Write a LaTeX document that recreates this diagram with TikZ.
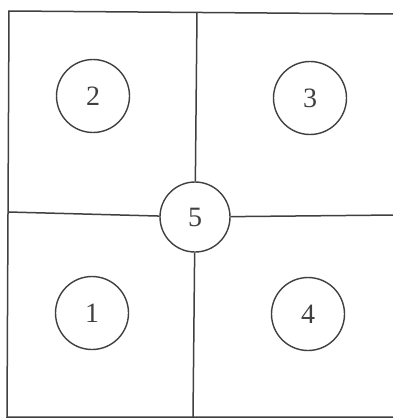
\documentclass[tikz,border=0pt]{standalone}
\usepackage{fontspec}
\setmainfont{Liberation Serif}
\begin{document}
\begin{tikzpicture}[x=1pt,y=-1pt,
  ln/.style={draw=black!75,line width=1.5pt},
  ring/.style={circle,draw=black!75,line width=1.4pt,minimum size=73pt,inner sep=0pt,font=\fontsize{28}{28}\selectfont,text=black!75}]
\useasboundingbox (0,0) rectangle (392,420);
\fill[white] (0,0) rectangle (392,420);
\coordinate (tl) at (9,11);
\coordinate (tr) at (396,14);
\coordinate (bl) at (7,417);
\coordinate (br) at (396,417);
\coordinate (vt) at (197,12.5);
\coordinate (vb) at (193,417);
\coordinate (hl) at (8,212);
\coordinate (hr) at (396,215);
\draw[ln] (tr) -- (tl) -- (bl) -- (br);
\node[ring,minimum size=70pt] (n5) at (195,217) {5};
\node[ring] (n2) at (93,96) {2};
\node[ring] (n3) at (310,98) {3};
\node[ring] (n1) at (92,313) {1};
\node[ring] (n4) at (308,314) {4};
\draw[ln] (vt) -- (n5);
\draw[ln] (n5) -- (vb);
\draw[ln] (hl) -- (n5);
\draw[ln] (n5) -- (hr);
\end{tikzpicture}
\end{document}
